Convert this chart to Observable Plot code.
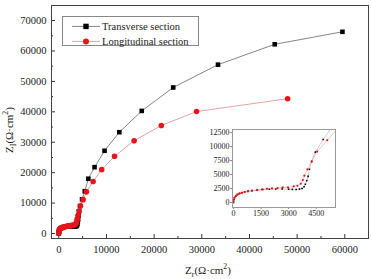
<!DOCTYPE html>
<html>
<head>
<meta charset="utf-8">
<script src="https://cdn.jsdelivr.net/npm/d3@7"></script>
<script src="https://cdn.jsdelivr.net/npm/@observablehq/plot@0.6"></script>
<style>
  html, body { margin: 0; padding: 0; background: #fff; }
  #wrap { position: relative; width: 371px; height: 279px; font-family: "Liberation Serif", serif; color: #222; }
  #wrap svg { display: block; }
  .abs { position: absolute; }
  .legend { left: 62px; top: 16px; width: 137px; height: 30px; border: 1px solid #888; background: #fff; box-sizing: border-box; font-size: 10.5px; }
  .legend .row { position: absolute; left: 0; height: 14px; display: flex; align-items: center; }
  .legend .row span { margin-left: 1px; white-space: nowrap; }
  .ytitle { left: 9px; top: 130px; transform: translate(-50%, -50%) rotate(-90deg); font-size: 11px; white-space: nowrap; }
  .xtitle { left: 208px; top: 270px; transform: translate(-50%, -50%); font-size: 11px; white-space: nowrap; }
  sub, sup { font-size: 70%; line-height: 0; }
</style>
</head>
<body>
<div id="wrap"></div>
<script>
// Transverse section (black squares)
const transX = [0, 20, 55, 120, 210, 320, 450, 610, 800, 1020, 1300, 1600, 1950, 2300, 2650, 3000, 3200, 3410, 3590, 3730, 3840, 3910, 3985, 4060, 4130, 4250, 4450, 4880, 5450, 6200, 7500, 9600, 12700, 17400, 24000, 33400, 45300, 59500];
const transY = [0, 480, 850, 1150, 1400, 1590, 1760, 1900, 2030, 2140, 2230, 2310, 2380, 2420, 2420, 2380, 2340, 2330, 2390, 2510, 2810, 3250, 3900, 4670, 5930, 7300, 9000, 11260, 13900, 18000, 21800, 27200, 33300, 40300, 48000, 55500, 62200, 66300];
// Longitudinal section (red circles)
const longX = [0, 5, 55, 130, 220, 330, 455, 600, 785, 1000, 1275, 1550, 1820, 2095, 2400, 2675, 2965, 3275, 3475, 3660, 3770, 3857, 4020, 4255, 4550, 5100, 5800, 7200, 9000, 11700, 15800, 21500, 28900, 48000];
const longY = [110, 530, 890, 1190, 1430, 1610, 1730, 1850, 1970, 2090, 2210, 2330, 2450, 2510, 2570, 2690, 2690, 2870, 2990, 3350, 4010, 4790, 5930, 7360, 9100, 11130, 13700, 17100, 21000, 25400, 30500, 35500, 40100, 44300];

const seriesNames = ["Transverse section", "Longitudinal section"];
const mainXTicks = [0, 10000, 20000, 30000, 40000, 50000, 60000];
const mainXMinor = [5000, 15000, 25000, 35000, 45000, 55000];
const mainYTicks = [0, 10000, 20000, 30000, 40000, 50000, 60000, 70000];
const mainYMinor = [5000, 15000, 25000, 35000, 45000, 55000, 65000];
const insetXTicks = [0, 1500, 3000, 4500];
const insetYTicks = [0, 2500, 5000, 7500, 10000, 12500];

const trans = transX.map((x, i) => ({x, y: transY[i]}));
const long = longX.map((x, i) => ({x, y: longY[i]}));

const blackLine = "#666";
const redLine = "#e08a8a";
const red = "#e8141c";

const wrap = document.getElementById("wrap");

const main = Plot.plot({
  width: 371, height: 279,
  marginLeft: 51, marginRight: 3, marginTop: 5, marginBottom: 41,
  style: {fontFamily: "Liberation Serif", fontSize: "10.5px", color: "#222", background: "transparent"},
  x: {domain: [-1530, 64970]},
  y: {domain: [-1640, 74950]},
  marks: [
    Plot.axisX({ticks: mainXTicks, tickSize: 0, tickPadding: 7, tickFormat: d => String(d), label: null}),
    Plot.axisX({ticks: mainXTicks, tickSize: -4, tickFormat: () => "", label: null, stroke: "#333"}),
    Plot.axisX({ticks: mainXMinor, tickSize: -2, tickFormat: () => "", label: null, stroke: "#333"}),
    Plot.axisY({ticks: mainYTicks, tickSize: 0, tickPadding: 5, tickFormat: d => String(d), label: null}),
    Plot.axisY({ticks: mainYTicks, tickSize: -4, tickFormat: () => "", label: null, stroke: "#333"}),
    Plot.axisY({ticks: mainYMinor, tickSize: -2, tickFormat: () => "", label: null, stroke: "#333"}),
    Plot.line(trans, {x: "x", y: "y", stroke: blackLine, strokeWidth: 0.8}),
    Plot.dot(trans, {x: "x", y: "y", symbol: "square", r: 2.6, fill: "#000"}),
    Plot.line(long, {x: "x", y: "y", stroke: redLine, strokeWidth: 0.8}),
    Plot.dot(long, {x: "x", y: "y", symbol: "circle", r: 2.8, fill: red}),
    Plot.frame({stroke: "#444", strokeWidth: 1})
  ]
});
wrap.appendChild(main);

// Inset
const inset = Plot.plot({
  width: 140, height: 97,
  marginLeft: 32, marginRight: 5, marginTop: 4, marginBottom: 15,
  style: {fontFamily: "Liberation Serif", fontSize: "8px", color: "#222", background: "transparent"},
  x: {domain: [-55, 5550]},
  y: {domain: [-900, 13050]},
  marks: [
    Plot.axisX({ticks: insetXTicks, tickSize: 2, tickPadding: 1, tickFormat: d => String(d), label: null, stroke: "#888"}),
    Plot.axisY({ticks: insetYTicks, tickSize: 2, tickPadding: 1, tickFormat: d => String(d), label: null, stroke: "#888"}),
    Plot.line(trans, {x: "x", y: "y", stroke: "#999", strokeWidth: 0.5, clip: true}),
    Plot.dot(trans, {x: "x", y: "y", symbol: "square", r: 0.9, fill: "#000", clip: true}),
    Plot.line(long, {x: "x", y: "y", stroke: redLine, strokeWidth: 0.5, clip: true}),
    Plot.dot(long, {x: "x", y: "y", symbol: "circle", r: 1.1, fill: red, clip: true}),
    Plot.frame({stroke: "#999", strokeWidth: 1})
  ]
});
inset.classList.add("abs");
inset.style.left = "200px";
inset.style.top = "125px";
wrap.appendChild(inset);

// Legend
const legend = document.createElement("div");
legend.className = "abs legend";
const legendItems = [
  {name: seriesNames[0], line: blackLine, fill: "#000", shape: "square"},
  {name: seriesNames[1], line: redLine, fill: red, shape: "circle"}
];
legendItems.forEach((it, i) => {
  const row = document.createElement("div");
  row.className = "row";
  row.style.top = (2 + i * 15) + "px";
  row.style.left = "9px";
  const sw = it.shape === "square"
    ? `<rect x="11.3" y="4.7" width="5.4" height="5.4" fill="${it.fill}"/>`
    : `<circle cx="14" cy="7.4" r="3" fill="${it.fill}"/>`;
  row.innerHTML = `<svg width="29" height="14"><line x1="0" x2="28" y1="7.4" y2="7.4" stroke="${it.line}" stroke-width="0.8"/>${sw}</svg><span>${it.name}</span>`;
  legend.appendChild(row);
});
wrap.appendChild(legend);

// Axis titles
const yt = document.createElement("div");
yt.className = "abs ytitle";
yt.innerHTML = "Z<sub>I</sub>(Ω·cm<sup>2</sup>)";
wrap.appendChild(yt);
const xt = document.createElement("div");
xt.className = "abs xtitle";
xt.innerHTML = "Z<sub>r</sub>(Ω·cm<sup>2</sup>)";
wrap.appendChild(xt);
</script>
</body>
</html>
